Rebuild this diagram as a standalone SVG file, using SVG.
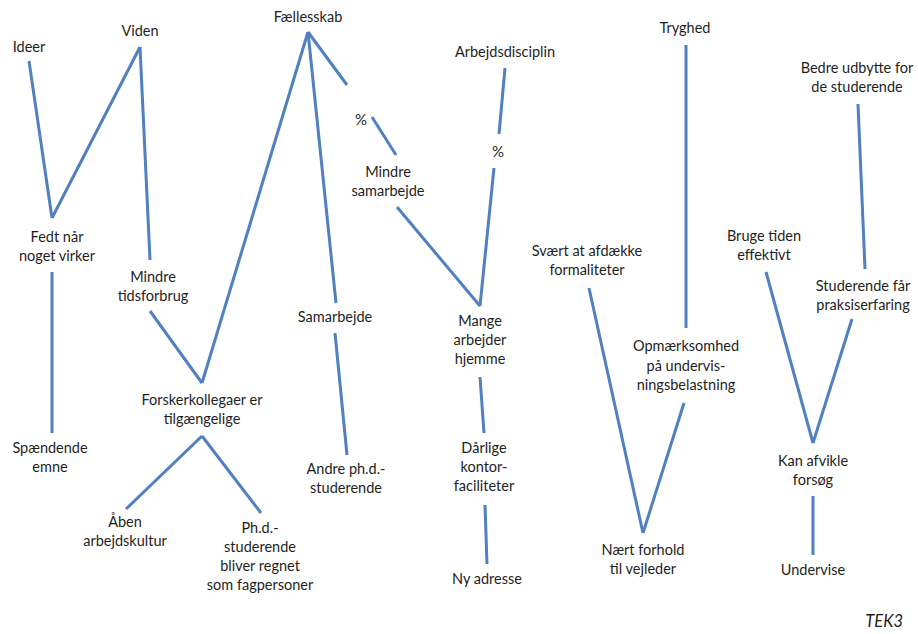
<svg xmlns="http://www.w3.org/2000/svg" width="918" height="634" viewBox="0 0 918 634">
  <style>
    .bg { fill: #ffffff; }
    .edge { stroke: #5080bf; stroke-width: 3; stroke-linecap: butt; fill: none; }
    text { font-family: Lato, "Liberation Sans", sans-serif; font-size: 14.5px; fill: #1e1e1e; text-anchor: middle; }
    .pct { font-size: 15px; }
    .tag { font-style: italic; font-size: 16.5px; text-anchor: end; }
  </style>
  <rect class="bg" x="0" y="0" width="918" height="634"/>

  <g id="connectors">
    <line class="edge" x1="29" y1="61" x2="52" y2="218"/>
    <line class="edge" x1="52" y1="218" x2="140" y2="47"/>
    <line class="edge" x1="140" y1="47" x2="150" y2="260"/>
    <line class="edge" x1="52" y1="272" x2="52" y2="433"/>
    <line class="edge" x1="150" y1="311" x2="202" y2="383"/>
    <line class="edge" x1="308" y1="32" x2="202" y2="383"/>
    <line class="edge" x1="308" y1="32" x2="336" y2="303"/>
    <line class="edge" x1="308" y1="32" x2="347" y2="85"/>
    <line class="edge" x1="372" y1="117" x2="396" y2="155"/>
    <line class="edge" x1="397" y1="207" x2="480" y2="306"/>
    <line class="edge" x1="505" y1="68" x2="499" y2="134"/>
    <line class="edge" x1="494" y1="168" x2="480" y2="306"/>
    <line class="edge" x1="335" y1="333" x2="347" y2="455"/>
    <line class="edge" x1="480" y1="377" x2="484" y2="433"/>
    <line class="edge" x1="485" y1="505" x2="487" y2="564"/>
    <line class="edge" x1="202" y1="436" x2="126" y2="509"/>
    <line class="edge" x1="202" y1="436" x2="261" y2="513"/>
    <line class="edge" x1="686" y1="45" x2="686" y2="328"/>
    <line class="edge" x1="684" y1="403" x2="643" y2="533"/>
    <line class="edge" x1="589" y1="288" x2="643" y2="533"/>
    <line class="edge" x1="858" y1="104" x2="865" y2="269"/>
    <line class="edge" x1="852" y1="319" x2="813" y2="443"/>
    <line class="edge" x1="766" y1="272" x2="813" y2="443"/>
    <line class="edge" x1="813" y1="496" x2="813" y2="555"/>
  </g>

  <g id="ideer"><text x="29" y="52">Ideer</text></g>
  <g id="viden"><text x="140" y="36">Viden</text></g>
  <g id="fedt"><text x="57" y="242">Fedt når</text><text x="57" y="261">noget virker</text></g>
  <g id="spaendende"><text x="50" y="453">Spændende</text><text x="50" y="472">emne</text></g>
  <g id="tidsforbrug"><text x="153" y="282">Mindre</text><text x="153" y="301">tidsforbrug</text></g>
  <g id="faellesskab"><text x="308" y="22">Fællesskab</text></g>
  <g id="pct1"><text class="pct" x="361" y="125">%</text></g>
  <g id="samarbejde-mindre"><text x="388" y="177">Mindre</text><text x="388" y="196">samarbejde</text></g>
  <g id="disciplin"><text x="505" y="57">Arbejdsdisciplin</text></g>
  <g id="pct2"><text class="pct" x="498" y="157">%</text></g>
  <g id="samarbejde"><text x="335" y="322">Samarbejde</text></g>
  <g id="andre"><text x="346" y="474">Andre ph.d.-</text><text x="346" y="493">studerende</text></g>
  <g id="hjemme"><text x="480" y="326">Mange</text><text x="480" y="345">arbejder</text><text x="480" y="364">hjemme</text></g>
  <g id="kontor"><text x="484" y="453">Dårlige</text><text x="484" y="472">kontor-</text><text x="484" y="491">faciliteter</text></g>
  <g id="adresse"><text x="487" y="584">Ny adresse</text></g>
  <g id="forsker"><text x="202" y="405">Forskerkollegaer er</text><text x="202" y="424">tilgængelige</text></g>
  <g id="aaben"><text x="125" y="527">Åben</text><text x="125" y="546">arbejdskultur</text></g>
  <g id="fagpersoner"><text x="260" y="533">Ph.d.-</text><text x="260" y="552">studerende</text><text x="260" y="571">bliver regnet</text><text x="260" y="590">som fagpersoner</text></g>
  <g id="tryghed"><text x="685" y="33">Tryghed</text></g>
  <g id="opmaerksomhed"><text x="686" y="351">Opmærksomhed</text><text x="686" y="371">på  undervis-</text><text x="686" y="390">ningsbelastning</text></g>
  <g id="formaliteter"><text x="587" y="256">Svært at afdække</text><text x="587" y="275">formaliteter</text></g>
  <g id="vejleder"><text x="643" y="555">Nært forhold</text><text x="643" y="574">til vejleder</text></g>
  <g id="udbytte"><text x="857" y="73">Bedre udbytte for</text><text x="857" y="92">de studerende</text></g>
  <g id="praksis"><text x="863" y="291">Studerende får</text><text x="863" y="310">praksiserfaring</text></g>
  <g id="effektivt"><text x="764" y="241">Bruge tiden</text><text x="764" y="260">effektivt</text></g>
  <g id="forsoeg"><text x="813" y="466">Kan afvikle</text><text x="813" y="485">forsøg</text></g>
  <g id="undervise"><text x="813" y="575">Undervise</text></g>
  <text class="tag" x="903" y="627">TEK3</text>
</svg>
